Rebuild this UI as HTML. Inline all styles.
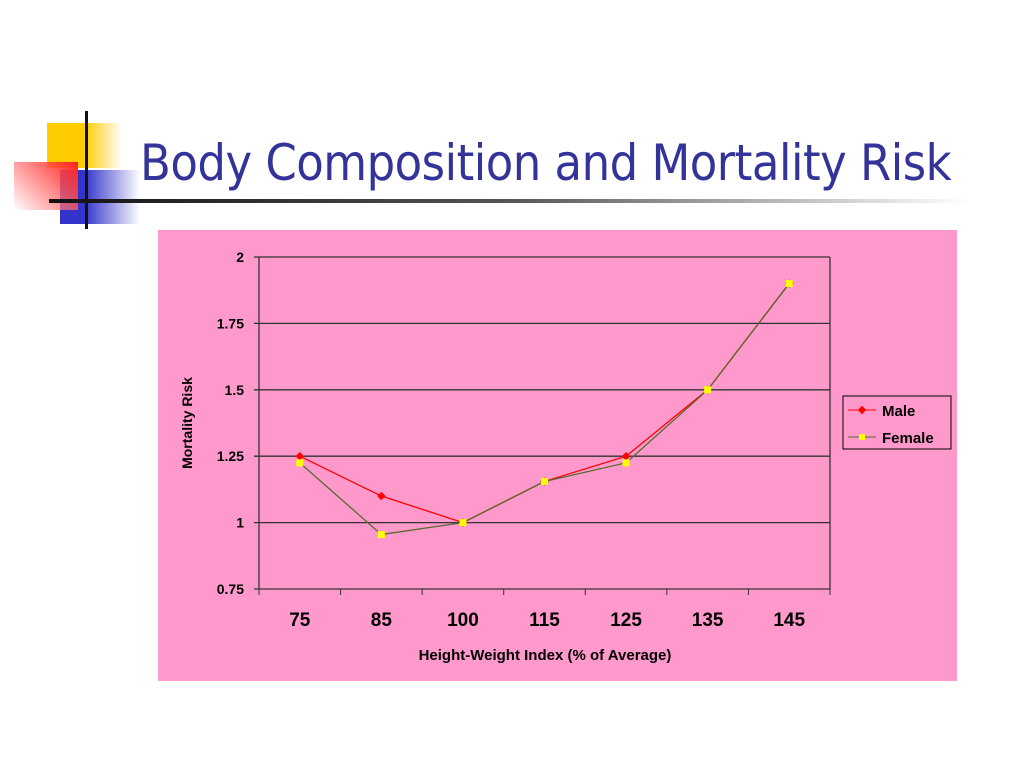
<!DOCTYPE html>
<html><head><meta charset="utf-8"><style>
body{margin:0;width:1024px;height:768px;background:#fff;position:relative;overflow:hidden;font-family:"Liberation Sans",sans-serif}
.abs{position:absolute}
</style></head><body>
<div class="abs" style="left:47px;top:123px;width:75px;height:45px;background:linear-gradient(90deg,#ffcc00 50%,rgba(255,204,0,0))"></div>
<div class="abs" style="left:60px;top:170px;width:80px;height:54px;background:linear-gradient(90deg,#3333cc 30%,rgba(51,51,204,0))"></div>
<div class="abs" style="left:14px;top:162px;width:64px;height:48px;background:linear-gradient(225deg,#ff2020,rgba(255,255,255,0.5))"></div>
<div class="abs" style="left:85px;top:111px;width:3px;height:118px;background:#111"></div>
<div class="abs" style="left:49px;top:199px;width:920px;height:4px;background:linear-gradient(90deg,#111 0%,#555 50%,rgba(255,255,255,0))"></div>
<div class="abs" style="left:140px;top:134px;font-size:50px;color:#333399;font-family:'DejaVu Sans Condensed','Liberation Sans Narrow','Liberation Sans',sans-serif;letter-spacing:-0.5px">Body Composition and Mortality Risk</div>
<svg class="abs" style="left:0;top:0" width="1024" height="768">
<rect x="158" y="230" width="799" height="451" fill="#ff99cc"/>
<g id="grid"></g><g id="series"></g>
<text transform="translate(192,423) rotate(-90)" text-anchor="middle" font-size="14" font-weight="bold">Mortality Risk</text>
<text x="545" y="660" text-anchor="middle" font-size="15" font-weight="bold">Height-Weight Index (% of Average)</text>
<g>
<rect x="843" y="396" width="108" height="53" fill="#ff99cc" stroke="#000"/>
<line x1="848" y1="410" x2="876" y2="410" stroke="#ff0000"/><rect x="859" y="407" width="6" height="6" fill="#ff0000" transform="rotate(45 862 410)"/>
<text x="882" y="416" font-size="15" font-weight="bold">Male</text>
<line x1="848" y1="437" x2="876" y2="437" stroke="#556b2f"/><rect x="859" y="434" width="6" height="6" fill="#ffff00"/>
<text x="882" y="443" font-size="15" font-weight="bold">Female</text>
</g>
</svg>
<script>
const categories=["75","85","100","115","125","135","145"];
const maleValues=[1.25,1.10,1.0,1.155,1.25,1.5,1.9];
const femaleValues=[1.225,0.955,1.0,1.155,1.225,1.5,1.9];
const yTicks=[0.75,1,1.25,1.5,1.75,2];
const L=259,R=830,T=257,B=589,yMin=0.75,yMax=2;
const NS="http://www.w3.org/2000/svg";
const bw=(R-L)/categories.length;
const xs=i=>L+bw*(i+0.5);
const ys=v=>B-(v-yMin)/(yMax-yMin)*(B-T);
function mk(tag,at,parent){const e=document.createElementNS(NS,tag);for(const k in at)e.setAttribute(k,at[k]);parent.appendChild(e);return e;}
const g=document.getElementById('grid'),s=document.getElementById('series');
yTicks.forEach(v=>{
 const y=ys(v);
 const ln=mk('line',{x1:L-5,x2:R,y1:y,y2:y,stroke:'#333','stroke-width':1.3},g);
 
 
 const t=mk('text',{x:244,y:y+5,'text-anchor':'end','font-size':14,'font-weight':'bold'},g);
 t.textContent=String(v);
 
 
});
mk('line',{x1:L,x2:L,y1:T,y2:B,stroke:'#333','stroke-width':1.3},g);
mk('line',{x1:R,x2:R,y1:T,y2:B,stroke:'#333','stroke-width':1.3},g);
for(let i=0;i<=categories.length;i++){const x=L+bw*i;mk('line',{x1:x,x2:x,y1:B,y2:B+6,stroke:'#333'},g);}
categories.forEach((c,i)=>{
 const t=mk('text',{x:xs(i),y:626,'text-anchor':'middle','font-size':19,'font-weight':'bold'},g);
 t.textContent=c;
 
 
});
function series(vals,color,name,marker){
 const p=mk('polyline',{points:vals.map((v,i)=>xs(i)+','+ys(v)).join(' '),fill:'none',stroke:color,'stroke-width':1.3},s);
 
 
 vals.forEach((v,i)=>{
  let m;
  if(marker==='d')m=mk('rect',{x:xs(i)-3,y:ys(v)-3,width:6,height:6,fill:'#ff0000',transform:`rotate(45 ${xs(i)} ${ys(v)})`},s);
  else m=mk('rect',{x:xs(i)-3.5,y:ys(v)-3.5,width:7,height:7,fill:'#ffff00'},s);
  
  
 });
}
series(maleValues,'#ff0000','male','d');
series(femaleValues,'#556b2f','female','s');
</script>
</body></html>
